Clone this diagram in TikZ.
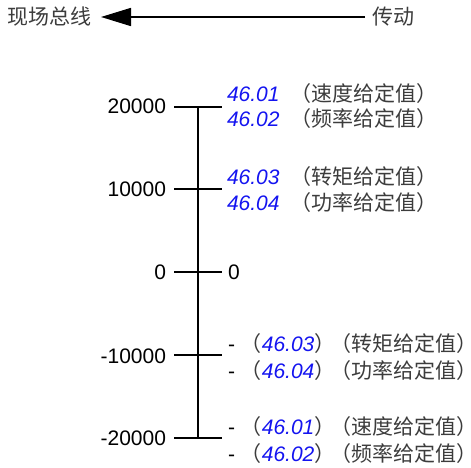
\documentclass[tikz,border=0pt]{standalone}
\usepackage{fontspec}
\setmainfont{Liberation Sans}
\newfontfamily\cjk{Noto Sans CJK SC}
\usetikzlibrary{arrows.meta}
\definecolor{refblue}{RGB}{20,20,240}
\definecolor{cjkgray}{RGB}{60,60,60}
\newcommand{\pnum}[1]{{\color{refblue}\itshape #1}}
\newcommand{\zh}[1]{{\cjk\color{cjkgray}#1}}
\newcommand{\pp}{\kern-0.22em}
\newcommand{\qq}{\kern0.22em}
\newcommand{\trimend}{\kern-0.45em}
\begin{document}
\begin{tikzpicture}[x=1pt,y=-1pt,
  every node/.style={inner sep=0pt,outer sep=0pt,font=\fontsize{21}{25}\selectfont},
  axisline/.style={line width=1.8pt,black},
  lab/.style={anchor=base west},
  val/.style={anchor=base east}]
\useasboundingbox (0,0) rectangle (471,468);
% top arrow
\node[anchor=base west] (fb) at (7,25) {\zh{现场总线}};
\node[anchor=base west] (dr) at (372,25) {\zh{传动}};
\draw[line width=1.6pt,-{Triangle[length=30pt,width=18pt]},shorten >=10pt,shorten <=7pt]
  (dr.west |- 0,17) coordinate (dw) -- (fb.east |- 0,17) coordinate (fe);
% axis
\coordinate (c1) at (198,106.7);
\coordinate (c2) at (198,189.3);
\coordinate (c3) at (198,272);
\coordinate (c4) at (198,355);
\coordinate (c5) at (198,438);
\draw[axisline] (c1) -- (c5);
\foreach \i in {1,...,5}{
  \draw[axisline] ([xshift=-24pt]c\i) coordinate (l\i) -- ([xshift=24pt]c\i) coordinate (r\i);
}
% values
\node[val] (v1) at (166,113.5) {20000};
\node[val] (v2) at (166,196.5) {10000};
\node[val] (v3) at (166,279.5) {0};
\node[val] (v4) at (166,363) {-10000};
\node[val] (v5) at (166,445) {-20000};
% right labels
\node[lab] (a1) at (227,101.5) {\pnum{46.01} \zh{\qq（速度给定值）}};
\node[lab] (a2) at (227,126.8) {\pnum{46.02} \zh{\qq（频率给定值）}};
\node[lab] (b1) at (227,184.5) {\pnum{46.03} \zh{\qq（转矩给定值）}};
\node[lab] (b2) at (227,210.5) {\pnum{46.04} \zh{\qq（功率给定值）}};
\node[lab] (z0) at (228,279.5) {0};
\node[lab] (d1) at (228,351.5) {- \zh{（}\pnum{46.03}\zh{）\pp（转矩给定值）\trimend}};
\node[lab] (d2) at (228,378.5) {- \zh{（}\pnum{46.04}\zh{）\pp（功率给定值）\trimend}};
\node[lab] (e1) at (228,434.5) {- \zh{（}\pnum{46.01}\zh{）\pp（速度给定值）\trimend}};
\node[lab] (e2) at (228,461.5) {- \zh{（}\pnum{46.02}\zh{）\pp（频率给定值）\trimend}};
\end{tikzpicture}
\end{document}
